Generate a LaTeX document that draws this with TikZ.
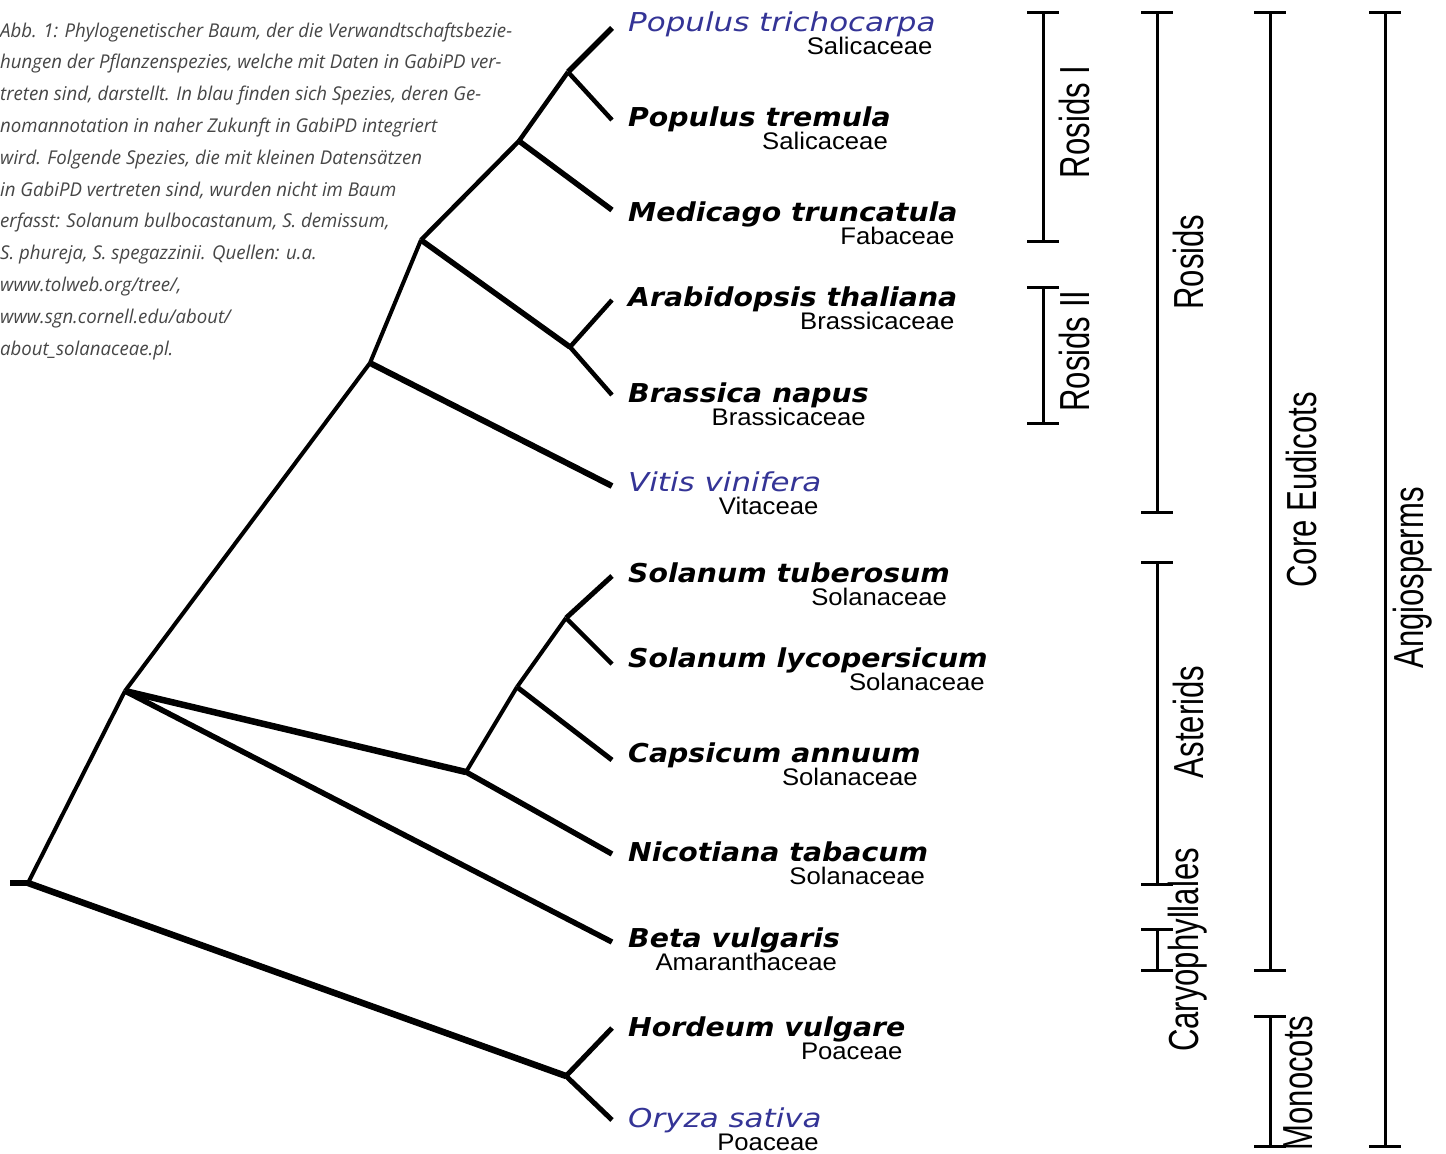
\documentclass[tikz,border=0pt]{standalone}
\usepackage{fontspec}
\newfontfamily\spfont[FakeStretch=1.09]{DejaVu Sans}
\newfontfamily\spbfont[FakeStretch=1.19]{DejaVu Sans}
\newfontfamily\famfont[FakeStretch=1.07]{Liberation Sans}
\newfontfamily\cladefont[FakeStretch=0.74]{Liberation Sans}
\newfontfamily\capfont[FakeStretch=0.98]{Open Sans}
\definecolor{spblue}{RGB}{52,52,150}
\definecolor{capgray}{RGB}{70,70,70}
\begin{document}
\begin{tikzpicture}[x=1pt,y=-1pt,
  species/.style={anchor=base west,inner sep=0pt,font=\spfont\bfseries\itshape\fontsize{26}{26}\selectfont},
  speciesb/.style={anchor=base west,inner sep=0pt,text=spblue,font=\spbfont\itshape\fontsize{26}{26}\selectfont},
  fam/.style={anchor=base east,inner sep=0pt,font=\famfont\fontsize{24}{24}\selectfont},
  clade/.style={line width=3pt},
  cladelabel/.style={rotate=90,inner sep=0pt,font=\cladefont\fontsize{42}{42}\selectfont},
  caption/.style={anchor=base west,inner sep=0pt,text=capgray,font=\capfont\itshape\fontsize{19}{19}\selectfont},
  br/.style={line width=#1,line cap=butt,line join=miter},
  br/.default=5pt]
\useasboundingbox[fill=white] (0,0) rectangle (1446,1154);

% ---- caption ----
\foreach \t [count=\i] in {
 {Abb. 1: Phylogenetischer Baum, der die Verwandtschaftsbezie-},
 {hungen der Pflanzenspezies, welche mit Daten in GabiPD ver-},
 {treten sind, darstellt. In blau finden sich Spezies, deren Ge-},
 {nomannotation in naher Zukunft in GabiPD integriert},
 {wird. Folgende Spezies, die mit kleinen Datensätzen},
 {in GabiPD vertreten sind, wurden nicht im Baum},
 {erfasst: Solanum bulbocastanum, S. demissum,},
 {S. phureja, S. spegazzinii. Quellen: u.a.},
 {www.tolweb.org/tree/,},
 {www.sgn.cornell.edu/about/},
 {about\_solanaceae.pl.}}
 \node[caption] (cap\i) at (0,{37+31.8*(\i-1)}) {\t};

% ---- tree nodes ----
\coordinate (stub) at (10,883);
\coordinate (R) at (28,883);
\coordinate (A) at (125,691);
\coordinate (B) at (370,363);
\coordinate (F) at (421,240);
\coordinate (G) at (519,141);
\coordinate (I) at (568,72);
\coordinate (H) at (570,347);
\coordinate (C) at (466,772);
\coordinate (D) at (517,687);
\coordinate (E) at (566,618);
\coordinate (P) at (566,1076);
% tips
\coordinate (t1) at (612,28);
\coordinate (t2) at (612,120);
\coordinate (t3) at (612,210);
\coordinate (t4) at (612,300);
\coordinate (t5) at (612,395);
\coordinate (t6) at (612,486);
\coordinate (t7) at (612,576);
\coordinate (t8) at (612,664);
\coordinate (t9) at (612,760);
\coordinate (t10) at (612,854);
\coordinate (t11) at (612,942);
\coordinate (t12) at (612,1028);
\coordinate (t13) at (612,1120);

% ---- branches ----
\draw[br=5.5pt] (stub) -- (R);
\draw[br=4pt] (R) -- (A);
\draw[br=6.5pt] (R) -- (P);
\draw[br=4pt] (A) -- (B);
\draw[br=5.5pt] (A) -- (t11);
\draw[br=6.5pt] (A) -- (C);
\draw[br=5.5pt] (C) -- (t10);
\draw[br=4pt] (C) -- (D);
\draw[br=5pt] (D) -- (t9);
\draw[br=4pt] (D) -- (E);
\draw[br=5pt] (E) -- (t7);
\draw[br=4.5pt] (E) -- (t8);
\draw[br=6pt] (B) -- (t6);
\draw[br=4pt] (B) -- (F);
\draw[br=5.5pt] (F) -- (H);
\draw[br=4.5pt] (H) -- (t4);
\draw[br=4.5pt] (H) -- (t5);
\draw[br=4.5pt] (F) -- (G);
\draw[br=5.5pt] (G) -- (t3);
\draw[br=4.5pt] (G) -- (I);
\draw[br=5.5pt] (I) -- (t1);
\draw[br=4.5pt] (I) -- (t2);
\draw[br=5pt] (P) -- (t12);
\draw[br=5pt] (P) -- (t13);

% ---- species labels ----
\node[speciesb] (s1) at (628,31) {Populus trichocarpa};
\node[species] (s2) at (628,126) {Populus tremula};
\node[species] (s3) at (628,221) {Medicago truncatula};
\node[species] (s4) at (628,306) {Arabidopsis thaliana};
\node[species] (s5) at (628,402) {Brassica napus};
\node[speciesb] (s6) at (628,491) {Vitis vinifera};
\node[species] (s7) at (628,582) {Solanum tuberosum};
\node[species] (s8) at (628,667) {Solanum lycopersicum};
\node[species] (s9) at (628,762) {Capsicum annuum};
\node[species] (s10) at (628,861) {Nicotiana tabacum};
\node[species] (s11) at (628,947) {Beta vulgaris};
\node[species] (s12) at (628,1036) {Hordeum vulgare};
\node[speciesb] (s13) at (628,1127) {Oryza sativa};

\node[fam] (f1) at ([xshift=-3pt,yshift=-23pt]s1.base east) {Salicaceae};
\node[fam] (f2) at ([xshift=-3pt,yshift=-23pt]s2.base east) {Salicaceae};
\node[fam] (f3) at ([xshift=-3pt,yshift=-23pt]s3.base east) {Fabaceae};
\node[fam] (f4) at ([xshift=-3pt,yshift=-23pt]s4.base east) {Brassicaceae};
\node[fam] (f5) at ([xshift=-3pt,yshift=-23pt]s5.base east) {Brassicaceae};
\node[fam] (f6) at ([xshift=-3pt,yshift=-23pt]s6.base east) {Vitaceae};
\node[fam] (f7) at ([xshift=-3pt,yshift=-23pt]s7.base east) {Solanaceae};
\node[fam] (f8) at ([xshift=-3pt,yshift=-23pt]s8.base east) {Solanaceae};
\node[fam] (f9) at ([xshift=-3pt,yshift=-23pt]s9.base east) {Solanaceae};
\node[fam] (f10) at ([xshift=-3pt,yshift=-23pt]s10.base east) {Solanaceae};
\node[fam] (f11) at ([xshift=-3pt,yshift=-23pt]s11.base east) {Amaranthaceae};
\node[fam] (f12) at ([xshift=-3pt,yshift=-23pt]s12.base east) {Poaceae};
\node[fam] (f13) at ([xshift=-3pt,yshift=-23pt]s13.base east) {Poaceae};

% ---- clade brackets ----
\foreach \n/\x/\ya/\yb in {r1/1043/12/241, r2/1043/287/423, ro/1157/12/512, as/1157/562/884, ca/1157/929/970, ce/1270/12/970, mo/1270/1016/1146, an/1385/12/1146}{
  \coordinate (\n t) at (\x,\ya);
  \coordinate (\n b) at (\x,\yb);
  \draw[clade] (\n t) -- (\n b);
  \draw[clade] ([xshift=-16pt]\n t) -- ([xshift=16pt]\n t);
  \draw[clade] ([xshift=-16pt]\n b) -- ([xshift=16pt]\n b);
}
\node[cladelabel] (l1) at (1074,122) {Rosids I};
\node[cladelabel] (l2) at (1074,351) {Rosids II};
\node[cladelabel] (l3) at (1188,262) {Rosids};
\node[cladelabel] (l4) at (1188,722) {Asterids};
\node[cladelabel] (l5) at (1188,950) {Caryophyllales};
\node[cladelabel] (l6) at (1301,490) {Core Eudicots};
\node[cladelabel] (l7) at (1298,1083) {Monocots};
\node[cladelabel] (l8) at (1413,578) {Angiosperms};
\end{tikzpicture}
\end{document}
